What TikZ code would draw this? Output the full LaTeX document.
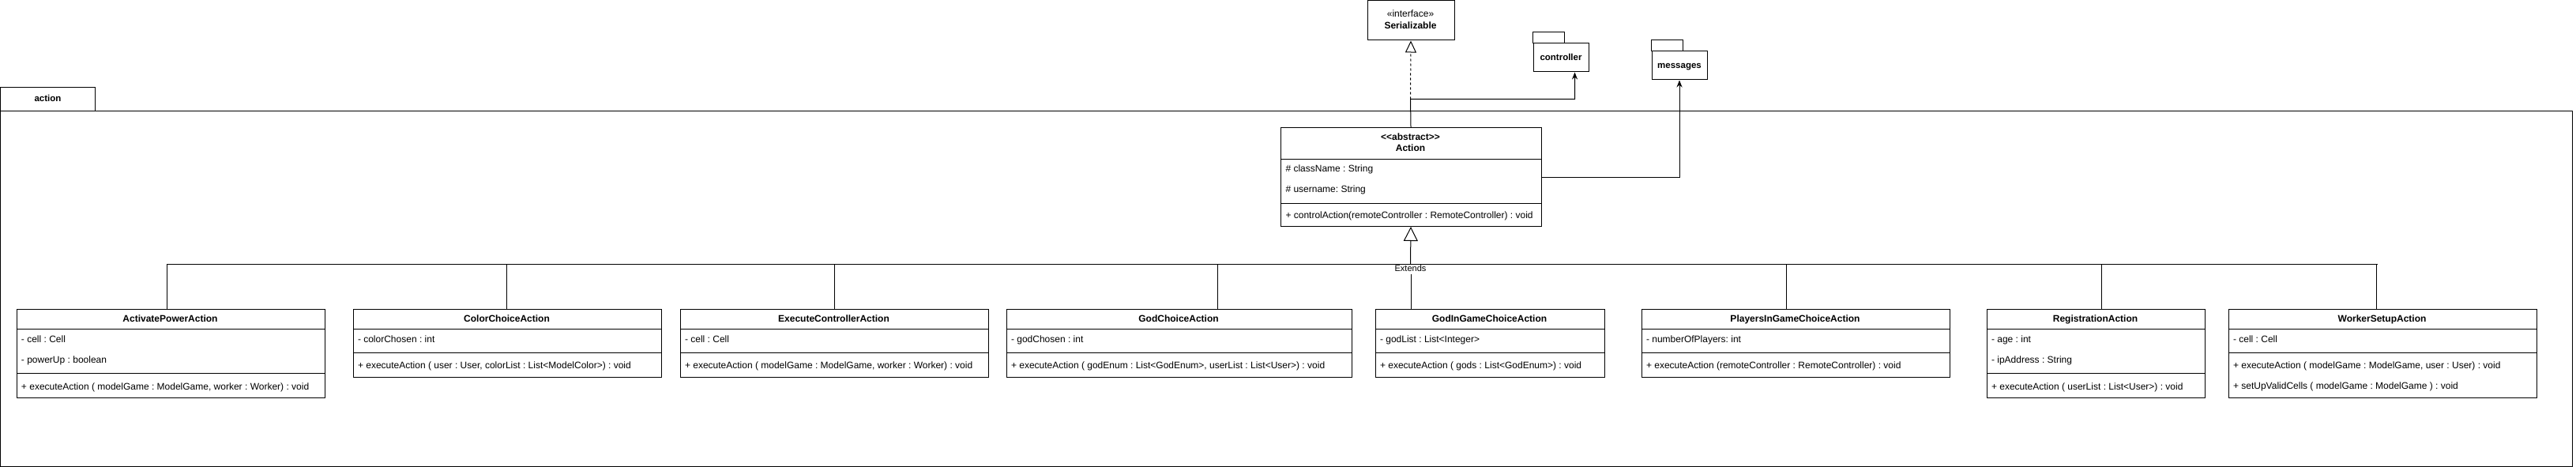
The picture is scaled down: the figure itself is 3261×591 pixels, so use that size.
\documentclass[tikz,border=0pt]{standalone}
\usepackage{fontspec}
\setmainfont{Liberation Sans}
\usepackage{xcolor}
\definecolor{uml-line}{HTML}{000000}
\definecolor{uml-fill}{HTML}{FFFFFF}
\usepackage{tikz}
\usetikzlibrary{arrows.meta}
\frenchspacing

\tikzset{
    classbox/.style={draw=uml-line, fill=uml-fill, line width=1pt, anchor=north west, inner sep=0pt},
    classname/.style={font=\bfseries\fontsize{12}{14}\selectfont, inner sep=0pt, text height=9pt, text depth=2.5pt},
    member/.style={font=\fontsize{12}{14}\selectfont, anchor=west, inner sep=0pt, text height=9pt, text depth=2.5pt},
    pkglabel/.style={font=\bfseries\fontsize{11.5}{14}\selectfont, inner sep=0pt, text height=9pt, text depth=2.5pt},
    edgelabel/.style={font=\fontsize{11}{13}\selectfont, fill=uml-fill, inner sep=1pt, text height=8pt, text depth=2pt},
    inherit/.style={draw=uml-line, line width=1pt, -{Triangle[open, length=18pt, width=18pt]}},
    realize/.style={draw=uml-line, line width=1pt, dash pattern=on 3pt off 3pt, -{Triangle[open, length=15pt, width=14pt]}},
    depend/.style={draw=uml-line, line width=1pt, -{Stealth[length=9pt, width=7pt]}}
}

\begin{document}
\begin{tikzpicture}[x=1pt, y=-1pt, line width=1pt]

    % Canvas
    \useasboundingbox (0, 0) rectangle (3261, 591);

    % Package frame
    \draw[fill=uml-fill] (0.5, 110.5) rectangle (120.5, 140.5);
    \draw (0.5, 140.5) rectangle (3256.5, 590.5);
    \node[pkglabel] (action-pkg) at (60.5, 125) {action};

    % Serializable
    \node[classbox, minimum width=110pt, minimum height=50pt] (serializable) at (1730.5, 0.5) {};
    \node[member, anchor=center] (serializable-stereo) at (1785.5, 18) {«interface»};
    \node[classname] (serializable-name) at (1785.5, 33) {Serializable};

    % Packages
    \draw (1940.5, 40.5) rectangle (1980.5, 54.5);
    \node[classbox, minimum width=70pt, minimum height=36pt] (controller) at (1940.5, 54.5) {};
    \node[pkglabel] (controller-name) at (controller) {controller};
    \draw (2090.5, 50.5) rectangle (2130.5, 64.5);
    \node[classbox, minimum width=70pt, minimum height=36pt] (messages) at (2090.5, 64.5) {};
    \node[pkglabel] (messages-name) at (messages) {messages};

    % Action
    \node[classbox, minimum width=330pt, minimum height=125pt] (action) at (1620.5, 161) {};
    \draw (1620.5, 201) -- (1950.5, 201) (1620.5, 257) -- (1950.5, 257);
    \node[classname] (action-stereo) at (1785.5, 174) {<{}<abstract>{}>};
    \node[classname] (action-name) at (1785.5, 188) {Action};
    \node[member] (action-a1) at (1627, 214) {\# className : String};
    \node[member] (action-a2) at (1627, 240) {\# username: String};
    \node[member] (action-m1) at (1627, 273) {+ controlAction(remoteController : RemoteController) : void};

    % Realization and dependencies
    \coordinate (action-bend) at (1785.5, 125.5);
    \draw[realize] (action-bend) -- (serializable.south);
    \draw[depend] (action.north) -- (action-bend) -| ([xshift=17.5pt]controller.south);
    \draw[depend] (action.east) -| (messages.south);

    % ActivatePowerAction
    \node[classbox, minimum width=390pt, minimum height=112pt] (activate) at (20.5, 390.5) {};
    \draw (20.5, 416.5) -- (410.5, 416.5) (20.5, 472.5) -- (410.5, 472.5);
    \node[classname] (activate-name) at (215.5, 404) {ActivatePowerAction};
    \node[member] (activate-a1) at (26.5, 430) {- cell : Cell};
    \node[member] (activate-a2) at (26.5, 456) {- powerUp : boolean};
    \node[member] (activate-m1) at (26.5, 490) {+ executeAction ( modelGame : ModelGame, worker : Worker) : void};

    % ColorChoiceAction
    \node[classbox, minimum width=390pt, minimum height=86pt] (colorchoice) at (446.5, 390.5) {};
    \draw (446.5, 416.5) -- (836.5, 416.5) (446.5, 446.5) -- (836.5, 446.5);
    \node[classname] (colorchoice-name) at (641.5, 404) {ColorChoiceAction};
    \node[member] (colorchoice-a1) at (452.5, 430) {- colorChosen : int};
    \node[member] (colorchoice-m1) at (452.5, 463) {+ executeAction ( user : User, colorList : List<ModelColor>) : void};

    % ExecuteControllerAction
    \node[classbox, minimum width=390pt, minimum height=86pt] (execute) at (860.5, 390.5) {};
    \draw (860.5, 416.5) -- (1250.5, 416.5) (860.5, 446.5) -- (1250.5, 446.5);
    \node[classname] (execute-name) at (1055.5, 404) {ExecuteControllerAction};
    \node[member] (execute-a1) at (866.5, 430) {- cell : Cell};
    \node[member] (execute-m1) at (866.5, 463) {+ executeAction ( modelGame : ModelGame, worker : Worker) : void};

    % GodChoiceAction
    \node[classbox, minimum width=437pt, minimum height=86pt] (godchoice) at (1273.5, 390.5) {};
    \draw (1273.5, 416.5) -- (1710.5, 416.5) (1273.5, 446.5) -- (1710.5, 446.5);
    \node[classname] (godchoice-name) at (1492, 404) {GodChoiceAction};
    \node[member] (godchoice-a1) at (1279.5, 430) {- godChosen : int};
    \node[member] (godchoice-m1) at (1279.5, 463) {+ executeAction ( godEnum : List<GodEnum>, userList : List<User>) : void};

    % GodInGameChoiceAction
    \node[classbox, minimum width=290pt, minimum height=86pt] (godingame) at (1740.5, 390.5) {};
    \draw (1740.5, 416.5) -- (2030.5, 416.5) (1740.5, 446.5) -- (2030.5, 446.5);
    \node[classname] (godingame-name) at (1885.5, 404) {GodInGameChoiceAction};
    \node[member] (godingame-a1) at (1746.5, 430) {- godList : List<Integer>};
    \node[member] (godingame-m1) at (1746.5, 463) {+ executeAction ( gods : List<GodEnum>) : void};

    % PlayersInGameChoiceAction
    \node[classbox, minimum width=390pt, minimum height=86pt] (players) at (2077.5, 390.5) {};
    \draw (2077.5, 416.5) -- (2467.5, 416.5) (2077.5, 446.5) -- (2467.5, 446.5);
    \node[classname] (players-name) at (2272.5, 404) {PlayersInGameChoiceAction};
    \node[member] (players-a1) at (2083.5, 430) {- numberOfPlayers: int};
    \node[member] (players-m1) at (2083.5, 463) {+ executeAction (remoteController : RemoteController) : void};

    % RegistrationAction
    \node[classbox, minimum width=276pt, minimum height=112pt] (registration) at (2514.5, 390.5) {};
    \draw (2514.5, 416.5) -- (2790.5, 416.5) (2514.5, 472.5) -- (2790.5, 472.5);
    \node[classname] (registration-name) at (2652.5, 404) {RegistrationAction};
    \node[member] (registration-a1) at (2520.5, 430) {- age : int};
    \node[member] (registration-a2) at (2520.5, 456) {- ipAddress : String};
    \node[member] (registration-m1) at (2520.5, 490) {+ executeAction ( userList : List<User>) : void};

    % WorkerSetupAction
    \node[classbox, minimum width=390pt, minimum height=112pt] (worker) at (2820.5, 390.5) {};
    \draw (2820.5, 416.5) -- (3210.5, 416.5) (2820.5, 446.5) -- (3210.5, 446.5);
    \node[classname] (worker-name) at (3015.5, 404) {WorkerSetupAction};
    \node[member] (worker-a1) at (2826.5, 430) {- cell : Cell};
    \node[member] (worker-m1) at (2826.5, 463) {+ executeAction ( modelGame : ModelGame, user : User) : void};
    \node[member] (worker-m2) at (2826.5, 489) {+ setUpValidCells ( modelGame : ModelGame ) : void};

    % Inheritance bus
    \coordinate (bus-west) at (210.5, 334);
    \coordinate (bus-east) at (3010, 334);
    \coordinate (bus-mid) at (1785.5, 334);
    \draw[inherit] (bus-mid) -- (action.south);
    \draw ([xshift=-5pt]activate.north) -- ++(0, -56);
    \draw ([xshift=-1pt]colorchoice.north) -- ++(0, -56);
    \draw (execute.north) -- ++(0, -56);
    \draw ([xshift=48.5pt]godchoice.north) -- ++(0, -56);
    \draw ([xshift=-100pt]godingame.north) -- ++(0, -56);
    \draw ([xshift=-11.5pt]players.north) -- ++(0, -56);
    \draw ([xshift=7.5pt]registration.north) -- ++(0, -56);
    \draw ([xshift=-7.5pt]worker.north) -- ++(0, -56);
    \node[edgelabel] (extends-label) at (1785.5, 340.5) {Extends};
    \draw (bus-west) -- (bus-east);

\end{tikzpicture}
\end{document}
